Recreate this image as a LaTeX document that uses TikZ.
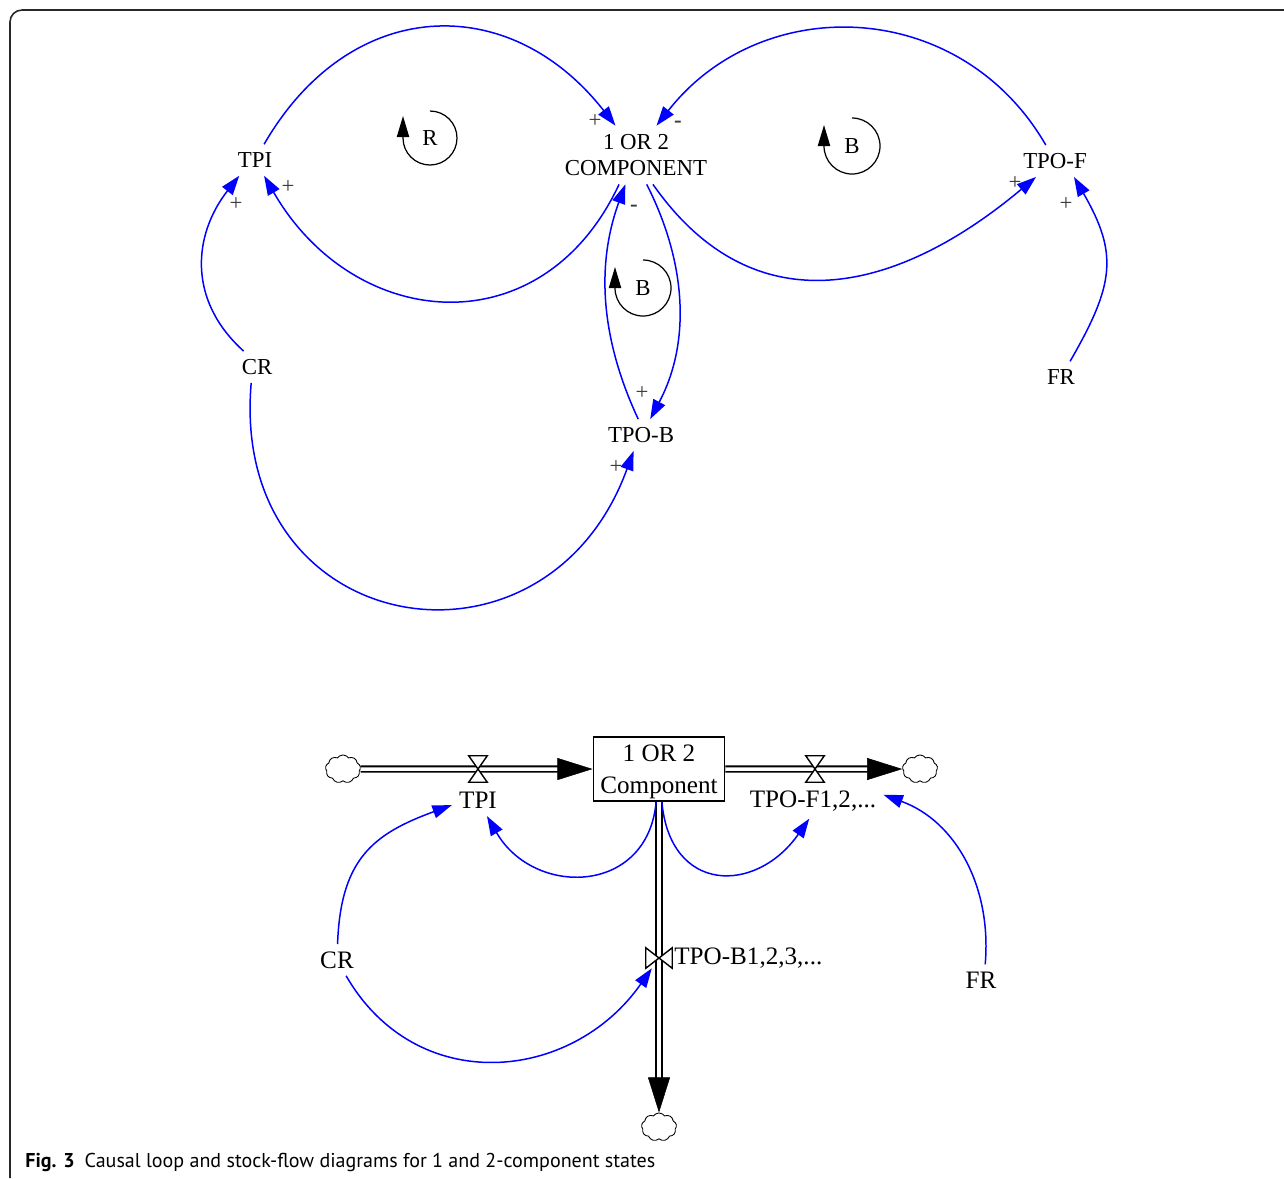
\documentclass[tikz,border=0pt]{standalone}
\usepackage{fontspec}
\setmainfont{Liberation Serif}
\newfontfamily\capfont{PT Sans}
\usetikzlibrary{arrows.meta, shapes.symbols, positioning}
\definecolor{linkblue}{RGB}{0,0,255}
\definecolor{framegray}{RGB}{40,40,40}
\definecolor{signgray}{RGB}{60,60,60}
\tikzset{
  var/.style={font=\fontsize{13pt}{15.3pt}\selectfont, inner sep=4.5pt},
  sfvar/.style={font=\fontsize{14.3pt}{18.2pt}\selectfont, inner sep=4pt},
  sign/.style={font=\fontsize{13pt}{15pt}\selectfont, inner sep=0pt, text=signgray},
  looplabel/.style={font=\fontsize{13pt}{15pt}\selectfont, inner sep=0pt},
  loopsym/.style={line width=0.7pt, -{Triangle[length=12pt, width=7pt]}},
  link/.style={draw=linkblue, line width=0.85pt, -{Triangle[length=11pt, width=7.5pt]}},
  stock/.style={draw, line width=0.85pt, minimum width=74.8pt, minimum height=36.3pt,
    inner sep=0pt, align=center, text depth=-5pt, font=\fontsize{14.3pt}{18.2pt}\selectfont},
  sink/.style={cloud, cloud puffs=9, cloud puff arc=110, draw, line width=0.5pt,
    minimum width=20pt, minimum height=16pt, inner sep=0pt, aspect=1.2},
  valveh/.style={minimum width=10.2pt, minimum height=14.7pt, inner sep=0pt},
  valvev/.style={minimum width=14.7pt, minimum height=11.3pt, inner sep=0pt},
  valve/.style={draw, fill=white, line width=0.8pt},
  pipe/.style={draw, line width=1.1pt, double, double distance=2pt, shorten >=12pt},
  pipetip/.style={draw=white, line width=0.3pt, -{Triangle[color=black, length=20pt, width=12.5pt]}},
  frame/.style={draw=framegray, line width=0.9pt}
}

\begin{document}
\begin{tikzpicture}[x=0.02cm, y=0.02cm]
  \useasboundingbox (0,0) rectangle (1284,-1178);
  \draw[frame] (10,-1178) -- (10,-22) arc[start angle=180, end angle=90, radius=12] -- (1284,-10);

  % causal loop diagram
  \node[var] (tpi) at (255,-160) {TPI};
  \node[var, align=center] (comp) at (636,-155) {1 OR 2\\COMPONENT};
  \node[var] (tpof) at (1055,-161) {TPO-F};
  \node[var] (cr) at (257,-367) {CR};
  \node[var] (tpob) at (641,-435) {TPO-B};
  \node[var] (fr) at (1061,-377) {FR};

  \draw[link] (tpi.60) to[out=60, in=128, looseness=1.25] (comp.125);
  \draw[link] (tpof.120) to[out=120, in=52, looseness=1.12] (comp.55);
  \draw[link] (comp.240) to[out=245, in=300, looseness=1.3] (tpi.300);
  \draw[link] (comp.300) to[out=305, in=220, looseness=1.19] (tpof.220);
  \draw[link] (comp.290) to[out=297, in=62, looseness=0.95] (tpob.60);
  \draw[link] (tpob.100) to[out=115, in=250, looseness=0.95] (comp.250);
  \draw[link] (cr.130) to[out=138, in=232, looseness=1.1] (tpi.225);
  \draw[link] (cr.250) to[out=265, in=250, looseness=1.7] (tpob.245);
  \draw[link] (fr.60) to[out=60, in=300, looseness=1.23] (tpof.320);

  \node[sign] (s1) at (595,-121) {+};
  \node[sign] (s2) at (678,-124) {\textbf{-}};
  \node[sign] (s3) at (288,-187) {+};
  \node[sign] (s4) at (634,-208) {\textbf{-}};
  \node[sign] (s5) at (1015,-183) {+};
  \node[sign] (s6) at (642,-393) {+};
  \node[sign] (s7) at (236,-204) {+};
  \node[sign] (s8) at (616,-467) {+};
  \node[sign] (s9) at (1066,-204) {+};

  \node[looplabel] (loopR) at (430,-138) {R};
  \draw[loopsym] (loopR) ++(0,27) arc[start angle=90, end angle=-180, radius=27] -- ++(0,22);
  \node[looplabel] (loopB1) at (852,-146) {B};
  \draw[loopsym] (loopB1) ++(0,28) arc[start angle=90, end angle=-180, radius=28] -- ++(0,21);
  \node[looplabel] (loopB2) at (643,-288) {B};
  \draw[loopsym] (loopB2) ++(0,28) arc[start angle=90, end angle=-180, radius=28] -- ++(0,21);

  % stock and flow diagram
  \node[stock] (stock) at (659,-769) {1 OR 2\\Component};
  \node[sink] (srcL) at (343,-769) {};
  \node[sink] (sinkR) at (920,-769) {};
  \node[sink] (sinkB) at (659,-1127) {};
  \node[valveh] (vTPI) at (478,-769) {};
  \node[valveh] (vTPOF) at (815,-769) {};
  \node[valvev] (vTPOB) at (659,-958) {};

  \draw[pipe] (srcL) -- (stock);
  \draw[pipe] (stock) -- (sinkR);
  \draw[pipe] (stock) -- (sinkB);
  \draw[pipetip] (vTPI) -- (stock);
  \draw[pipetip] (vTPOF) -- (sinkR);
  \draw[pipetip] (vTPOB) -- (sinkB);

  \draw[valve] (vTPI.north west) -- (vTPI.north east) -- (vTPI.south west) -- (vTPI.south east) -- cycle;
  \draw[valve] (vTPOF.north west) -- (vTPOF.north east) -- (vTPOF.south west) -- (vTPOF.south east) -- cycle;
  \draw[valve] (vTPOB.north west) -- (vTPOB.south west) -- (vTPOB.north east) -- (vTPOB.south east) -- cycle;

  \node[sfvar, below=1.5pt of vTPI] (lTPI) {TPI};
  \node[sfvar] (lTPOF) at (813,-801) {TPO-F1,2,...};
  \node[sfvar, right=-3pt of vTPOB] (lTPOB) {TPO-B1,2,3,...};
  \node[sfvar] (lCR) at (337,-960) {CR};
  \node[sfvar] (lFR) at (981,-980) {FR};

  \draw[link] (lCR.88) to[out=88, in=200, looseness=1.2] (lTPI.190);
  \draw[link] (stock.265) to[out=265, in=300, looseness=1.42] (lTPI.300);
  \draw[link] (stock.275) to[out=275, in=235, looseness=1.6] (lTPOF.258);
  \draw[link] (lFR.75) to[out=85, in=340, looseness=1.0] (lTPOF.5);
  \draw[link] (lCR.300) to[out=300, in=235, looseness=1.17] (vTPOB.235);

  \node[anchor=base west, inner sep=0pt, font=\capfont\fontsize{11.4pt}{13pt}\selectfont] (caption)
    at (25,-1167) {\textbf{Fig. 3}\hspace{0.5em}Causal loop and stock-flow diagrams for 1 and 2-component states};
\end{tikzpicture}
\end{document}
